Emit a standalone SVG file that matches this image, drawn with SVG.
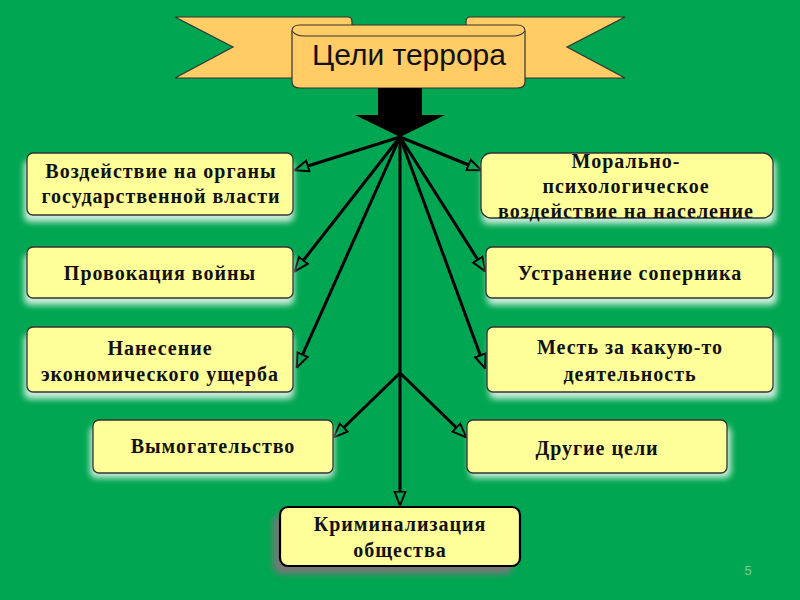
<svg xmlns="http://www.w3.org/2000/svg" width="800" height="600" viewBox="0 0 800 600">
<defs>
<style>
.box{fill:#ffff99;stroke:#333;stroke-width:1.3}
.sh{fill:#ffffff;opacity:0.8;filter:url(#blur)}
.t{font-family:"Liberation Serif","Times New Roman",serif;font-weight:bold;font-size:20px;letter-spacing:1px;fill:#111;text-anchor:middle}
.c{fill:none;stroke:#000;stroke-width:3;marker-end:url(#ah)}
.rib{fill:#ffcc66;stroke:#333;stroke-width:1.2}
</style>
<filter id="blur" x="-20%" y="-40%" width="140%" height="180%"><feGaussianBlur stdDeviation="3"/></filter>
<marker id="ah" viewBox="0 0 16 14" refX="14.5" refY="7" markerWidth="16" markerHeight="14" markerUnits="userSpaceOnUse" orient="auto">
<path d="M1,1.5 L15,7 L1,12.5 z" fill="#00a651" stroke="#000" stroke-width="2" stroke-linejoin="miter"/>
</marker>
</defs>
<rect x="0" y="0" width="800" height="600" fill="#00a651"/>

<g id="title">
<path class="rib" d="M175,17 L348,17 Q352,17 352,22 L352,78 L175,78 L233,47 Z"/>
<path class="rib" d="M625,17 L470,17 Q466,17 466,22 L466,78 L625,78 L567,47 Z"/>
<path class="rib" d="M292,31 Q292,25 300,25 L517,25 Q525,25 525,31 L525,82 Q525,88 517,88 L300,88 Q292,88 292,82 Z"/>
<path class="rib" d="M292,31 Q296,36 304,36 L513,36 Q521,36 525,31" fill="none"/>
<text x="409" y="65" font-family="'Liberation Sans',Arial,sans-serif" font-size="30" fill="#111" text-anchor="middle">Цели террора</text>
<polygon points="378,88 422,88 422,115 445,115 400,137 355,115 378,115" fill="#000"/>
</g>

<g id="connectors">
<line class="c" x1="400" y1="137" x2="295" y2="170"/>
<line class="c" x1="400" y1="137" x2="295" y2="271"/>
<line class="c" x1="400" y1="137" x2="297" y2="367"/>
<line class="c" x1="400" y1="137" x2="400" y2="505"/>
<line class="c" x1="400" y1="137" x2="481" y2="170"/>
<line class="c" x1="400" y1="137" x2="485" y2="271"/>
<line class="c" x1="400" y1="137" x2="485" y2="368"/>
<line class="c" x1="400" y1="373" x2="334" y2="437"/>
<line class="c" x1="400" y1="373" x2="466" y2="437"/>
</g>

<g id="n1">
<rect class="sh" x="24" y="160" width="270" height="62" rx="6"/>
<rect class="box" x="27" y="153" width="266" height="62" rx="6"/>
<text class="t" x="161" y="178">Воздействие на органы</text>
<text class="t" x="161" y="203">государственной власти</text>
</g>

<g id="n2">
<rect class="sh" x="24" y="254" width="270" height="51" rx="6"/>
<rect class="box" x="27" y="247" width="266" height="51" rx="6"/>
<text class="t" x="160" y="280">Провокация войны</text>
</g>

<g id="n3">
<rect class="sh" x="24" y="334" width="270" height="65" rx="6"/>
<rect class="box" x="27" y="327" width="266" height="65" rx="6"/>
<text class="t" x="160" y="355">Нанесение</text>
<text class="t" x="160" y="381">экономического ущерба</text>
</g>

<g id="n4">
<rect class="sh" x="90" y="426" width="244" height="52" rx="6"/>
<rect class="box" x="93" y="420" width="240" height="53" rx="6"/>
<text class="t" x="213" y="453">Вымогательство</text>
</g>

<g id="n5">
<rect class="sh" x="482" y="160" width="294" height="64" rx="6"/>
<rect class="box" x="481" y="153" width="292" height="65" rx="10"/>
<text class="t" x="626" y="168">Морально-</text>
<text class="t" x="626" y="193">психологическое</text>
<text class="t" x="626" y="218">воздействие на население</text>
</g>

<g id="n6">
<rect class="sh" x="487" y="254" width="290" height="51" rx="6"/>
<rect class="box" x="486" y="247" width="287" height="51" rx="6"/>
<text class="t" x="630" y="280">Устранение соперника</text>
</g>

<g id="n7">
<rect class="sh" x="489" y="334" width="288" height="65" rx="6"/>
<rect class="box" x="487" y="327" width="286" height="65" rx="6"/>
<text class="t" x="630" y="354">Месть за какую-то</text>
<text class="t" x="630" y="381">деятельность</text>
</g>

<g id="n8">
<rect class="sh" x="469" y="426" width="262" height="52" rx="6"/>
<rect class="box" x="467" y="420" width="260" height="53" rx="6"/>
<text class="t" x="597" y="455">Другие цели</text>
</g>

<g id="n9">
<rect x="273" y="515" width="240" height="59" rx="8" fill="#777" filter="url(#blur)"/>
<rect x="280" y="507" width="240" height="59" rx="8" fill="#ffff99" stroke="#000" stroke-width="2.2"/>
<text class="t" x="400" y="531">Криминализация</text>
<text class="t" x="400" y="557">общества</text>
</g>

<text x="748" y="575" font-family="'Liberation Sans',Arial,sans-serif" font-size="13" fill="#7ccf9c" text-anchor="middle">5</text>
</svg>
